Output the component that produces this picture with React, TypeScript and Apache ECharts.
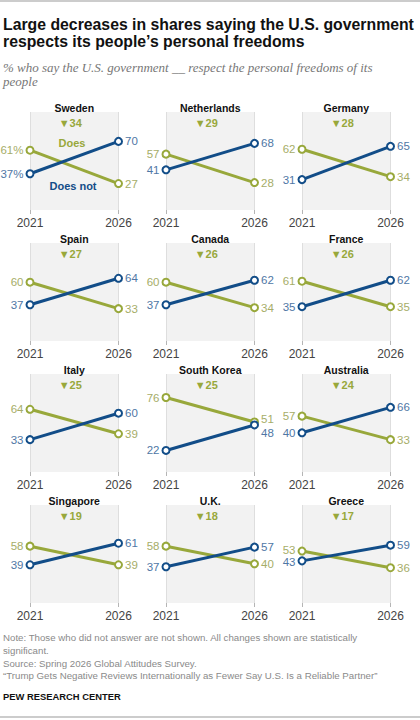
import React, { useEffect, useRef } from "react";
import * as echarts from "echarts";

const countries = ["Sweden", "Netherlands", "Germany", "Spain", "Canada", "France", "Italy", "South Korea", "Australia", "Singapore", "U.K.", "Greece"];
const years = ["2021", "2026"];
const does2021 = [61, 57, 62, 60, 60, 61, 64, 76, 57, 58, 58, 53];
const does2026 = [27, 28, 34, 33, 34, 35, 39, 51, 33, 39, 40, 36];
const doesNot2021 = [37, 41, 31, 37, 37, 35, 33, 22, 40, 39, 37, 43];
const doesNot2026 = [70, 68, 65, 64, 62, 62, 60, 48, 66, 61, 57, 59];
const changes = [34, 29, 28, 27, 26, 26, 25, 25, 24, 19, 18, 17];

const OLIVE = "#98a83b";
const OLIVE_TXT = "#a6ad68";
const BLUE = "#124d88";
const BLUE_TXT = "#4f77a5";
const SANS = "'Liberation Sans', Arial, sans-serif";

export default function App() {
  const ref = useRef<HTMLDivElement>(null);
  useEffect(() => {
    const chart = echarts.init(ref.current!, null, { renderer: "svg" });
    const grids: any[] = [];
    const xAxes: any[] = [];
    const yAxes: any[] = [];
    const series: any[] = [];
    const graphics: any[] = [];
    const gw = 88.5;
    const gh = 98;
    countries.forEach((name, i) => {
      const r = Math.floor(i / 3);
      const c = i % 3;
      const left = 30 + 136 * c;
      const top = 112 + 131 * r;
      grids.push({ left, top, width: gw, height: gh, show: true, backgroundColor: "#f2f2f2", borderWidth: 0 });
      xAxes.push({
        type: "category", gridIndex: i, data: years, boundaryGap: false,
        axisLine: { show: false },
        axisTick: { show: true, length: 4, lineStyle: { color: "#b5b5b5" } },
        axisLabel: { margin: 7, color: "#444", fontSize: 12, fontFamily: SANS },
        splitLine: { show: true, lineStyle: { color: "#dedede", width: 1 } },
      });
      yAxes.push({ type: "value", gridIndex: i, min: 0, max: 100, show: false });
      const pct = i === 0 ? "%" : "";
      const mk = (v: number, pos: string, color: string, extra: any = {}) => ({
        value: v,
        label: { show: true, position: pos, distance: 2, color, fontSize: 11.5, fontFamily: SANS, formatter: pos === "left" ? "{c}" + pct : "{c}", ...extra },
      });
      let bR: any = {}, oR: any = {}, bL: any = {}, oL: any = {};
      if (name === "South Korea") { bR = { offset: [0, 8] }; oR = { offset: [0, -3] }; }
      if (name === "Greece") { oL = { offset: [0, -1.5] }; bL = { offset: [0, 1.5] }; }
      series.push({
        type: "line", xAxisIndex: i, yAxisIndex: i, symbol: "circle", symbolSize: 7,
        lineStyle: { color: OLIVE, width: 3 },
        itemStyle: { color: "#fff", borderColor: OLIVE, borderWidth: 2 },
        emphasis: { disabled: true },
        data: [mk(does2021[i], "left", OLIVE_TXT, oL), mk(does2026[i], "right", OLIVE_TXT, oR)],
      });
      series.push({
        type: "line", xAxisIndex: i, yAxisIndex: i, symbol: "circle", symbolSize: 7,
        lineStyle: { color: BLUE, width: 3 },
        itemStyle: { color: "#fff", borderColor: BLUE, borderWidth: 2 },
        emphasis: { disabled: true },
        data: [mk(doesNot2021[i], "left", BLUE_TXT, bL), mk(doesNot2026[i], "right", BLUE_TXT, bR)],
      });
      const cx = left + gw / 2;
      graphics.push({ type: "text", x: cx, y: 107.5 + 131 * r, style: { text: name, fill: "#111", fontSize: 10.5, fontWeight: "bold", fontFamily: SANS, textAlign: "center", textVerticalAlign: "middle" } });
      graphics.push({ type: "text", x: cx - 4, y: 123 + 131 * r, style: { text: "▼" + changes[i], fill: OLIVE, fontSize: 11, fontWeight: "bold", fontFamily: SANS, textAlign: "center", textVerticalAlign: "middle" } });
    });
    graphics.push({ type: "text", x: 72, y: 143, style: { text: "Does", fill: OLIVE, fontSize: 11, fontWeight: "bold", fontFamily: SANS, textAlign: "center", textVerticalAlign: "middle" } });
    graphics.push({ type: "text", x: 73, y: 186, style: { text: "Does not", fill: BLUE, fontSize: 11, fontWeight: "bold", fontFamily: SANS, textAlign: "center", textVerticalAlign: "middle" } });

    const txt = (text: string, x: number, y: number, s: any) => ({ type: "text", x, y, style: { text, textAlign: "left", textVerticalAlign: "middle", ...s } });
    graphics.push({ type: "line", shape: { x1: 0, y1: 1, x2: 420, y2: 1 }, style: { stroke: "#999", lineWidth: 1 } });
    graphics.push({ type: "line", shape: { x1: 0, y1: 717, x2: 420, y2: 717 }, style: { stroke: "#999", lineWidth: 1 } });
    const titleS = { fill: "#111", fontSize: 15.8, fontWeight: "bold", fontFamily: SANS };
    graphics.push(txt("Large decreases in shares saying the U.S. government", 3, 24.5, titleS));
    graphics.push(txt("respects its people\u2019s personal freedoms", 3, 41.5, titleS));
    const subS = { fill: "#777", fontSize: 13, fontStyle: "italic", fontFamily: "'Liberation Serif', Georgia, serif" };
    graphics.push(txt("% who say the U.S. government __ respect the personal freedoms of its", 3, 67.5, subS));
    graphics.push(txt("people", 3, 81, subS));
    const noteS = { fill: "#8a8a8a", fontSize: 9.7, fontFamily: SANS };
    graphics.push(txt("Note: Those who did not answer are not shown. All changes shown are statistically", 3, 637, noteS));
    graphics.push(txt("significant.", 3, 650, noteS));
    graphics.push(txt("Source: Spring 2026 Global Attitudes Survey.", 3, 663, noteS));
    graphics.push(txt("\u201CTrump Gets Negative Reviews Internationally as Fewer Say U.S. Is a Reliable Partner\u201D", 3, 675, noteS));
    graphics.push(txt("PEW RESEARCH CENTER", 3, 696, { fill: "#111", fontSize: 9.4, fontWeight: "bold", fontFamily: SANS }));

    chart.setOption({
      animation: false,
      backgroundColor: "#fff",
      grid: grids,
      xAxis: xAxes,
      yAxis: yAxes,
      series,
      graphic: graphics,
    });
    return () => chart.dispose();
  }, []);
  return <div ref={ref} style={{ position: "absolute", left: 0, top: 0, width: 420, height: 720 }} />;
}
